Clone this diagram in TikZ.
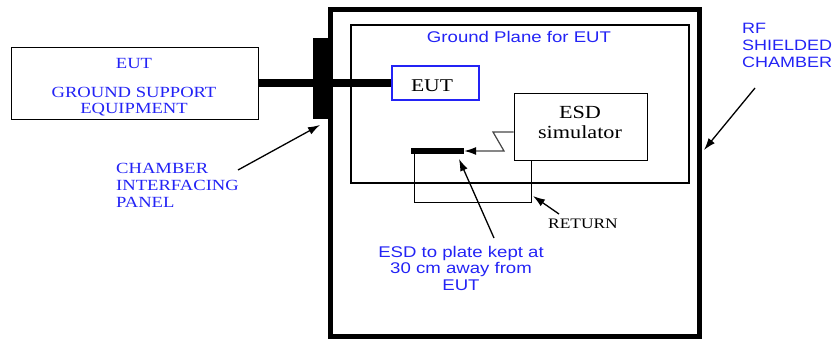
\documentclass[tikz,border=0pt]{standalone}
\usepackage{fontspec}
\setmainfont{Liberation Serif}
\newfontfamily\serifw[FakeStretch=1.2]{Liberation Serif}
\newfontfamily\sansw[FakeStretch=1.2]{Liberation Sans}
\usetikzlibrary{arrows.meta}
\definecolor{tblue}{RGB}{35,35,245}
\definecolor{zgray}{RGB}{70,70,70}
\begin{document}
\begin{tikzpicture}[x=1pt,y=-1pt,
  box/.style={draw, rectangle, inner sep=0pt, line width=1pt},
  bluesans/.style={text=tblue, font=\sansw\fontsize{15.5}{16.8}\selectfont, inner sep=0pt},
  blueserif/.style={text=tblue, font=\serifw\fontsize{15.5}{16.8}\selectfont, inner sep=0pt},
  blackserif/.style={font=\serifw\fontsize{18.5}{20}\selectfont, inner sep=0pt},
  pointer/.style={-{Latex[length=12pt,width=8pt]}, line width=1.3pt},
]
\useasboundingbox (0,0) rectangle (838,340);

% chamber and ground plane
\node[draw, line width=5pt, inner sep=0pt, minimum width=369pt, minimum height=327.5pt] (chamber) at (514.5,172.75) {};
\node[draw, line width=1.5pt, inner sep=0pt, minimum width=338pt, minimum height=158pt] (gp) at (520,104) {};
\node[bluesans, anchor=base] (gpt) at (519,42) {Ground Plane for EUT};

% ground support equipment
\node[box, minimum width=247pt, minimum height=72pt] (gse) at (134.5,83) {};
\node[blueserif, anchor=base] (gse1) at (134,68) {EUT};
\node[blueserif, anchor=base] (gse2) at (134,97) {GROUND SUPPORT};
\node[blueserif, anchor=base] (gse3) at (134,113) {EQUIPMENT};

% EUT
\node[box, draw=tblue, line width=1.2pt, minimum width=87pt, minimum height=34pt] (eut) at (435.5,83) {};
\node[blackserif, font=\serifw\fontsize{18}{20}\selectfont, anchor=base] (eutt) at (432,91) {EUT};

% cable and panel
\draw[line width=8pt] (gse.east) -- (eut.west);
\node[fill=black, inner sep=0pt, minimum width=17pt, minimum height=81pt] (panel) at (321.5,78.5) {};

% ESD simulator
\node[box, minimum width=133pt, minimum height=67pt] (sim) at (580.5,126.5) {};
\node[blackserif, anchor=base] (sim1) at (580,118) {ESD};
\node[blackserif, anchor=base] (sim2) at (580,138) {simulator};

% plate
\node[fill=black, inner sep=0pt, minimum width=53pt, minimum height=6pt] (plate) at (437.5,151) {};
\coordinate (z1) at (493,132);
\coordinate (z2) at (504,151);
\draw[zgray, line width=1.2pt, -{Latex[length=12pt,width=8pt,fill=black,color=black]}] (sim.west |- z1) -- (z1) -- (z2) -- (plate.east);

% return wire
\draw[line width=1pt] ([xshift=4pt]plate.west) -- ++(0,51) -| ([xshift=-49.5pt]sim.south);

% RETURN label
\node[font=\serifw\fontsize{14.5}{16}\selectfont, anchor=base west, inner sep=0pt] (ret) at (548,228) {RETURN};
\coordinate (retc) at (533,196);
\coordinate (rets) at (559,214);
\draw[pointer] (rets) -- (retc);

% ESD to plate label
\node[bluesans, anchor=base] (e1) at (461,257) {ESD to plate kept at};
\node[bluesans, anchor=base] (e2) at (461,273) {30 cm away from};
\node[bluesans, anchor=base] (e3) at (461,290) {EUT};
\coordinate (es) at (494,238);
\coordinate (ee) at (459,159);
\draw[pointer] (es) -- (ee);

% RF shielded chamber
\node[bluesans, font=\sansw\fontsize{15}{16.5}\selectfont, anchor=base west] (rf1) at (742,33) {RF};
\node[bluesans, font=\sansw\fontsize{15}{16.5}\selectfont, anchor=base west] (rf2) at (742,50) {SHIELDED};
\node[bluesans, font=\sansw\fontsize{15}{16.5}\selectfont, anchor=base west] (rf3) at (742,67) {CHAMBER};
\coordinate (rfs) at (755,88);
\coordinate (rfe) at (704,150);
\draw[pointer] (rfs) -- (rfe);

% chamber interfacing panel
\node[blueserif, anchor=base west] (c1) at (116,173) {CHAMBER};
\node[blueserif, anchor=base west] (c2) at (116,190) {INTERFACING};
\node[blueserif, anchor=base west] (c3) at (116,207) {PANEL};
\coordinate (cs) at (238,170);
\coordinate (ce) at (320,125);
\draw[pointer] (cs) -- (ce);
\end{tikzpicture}
\end{document}
